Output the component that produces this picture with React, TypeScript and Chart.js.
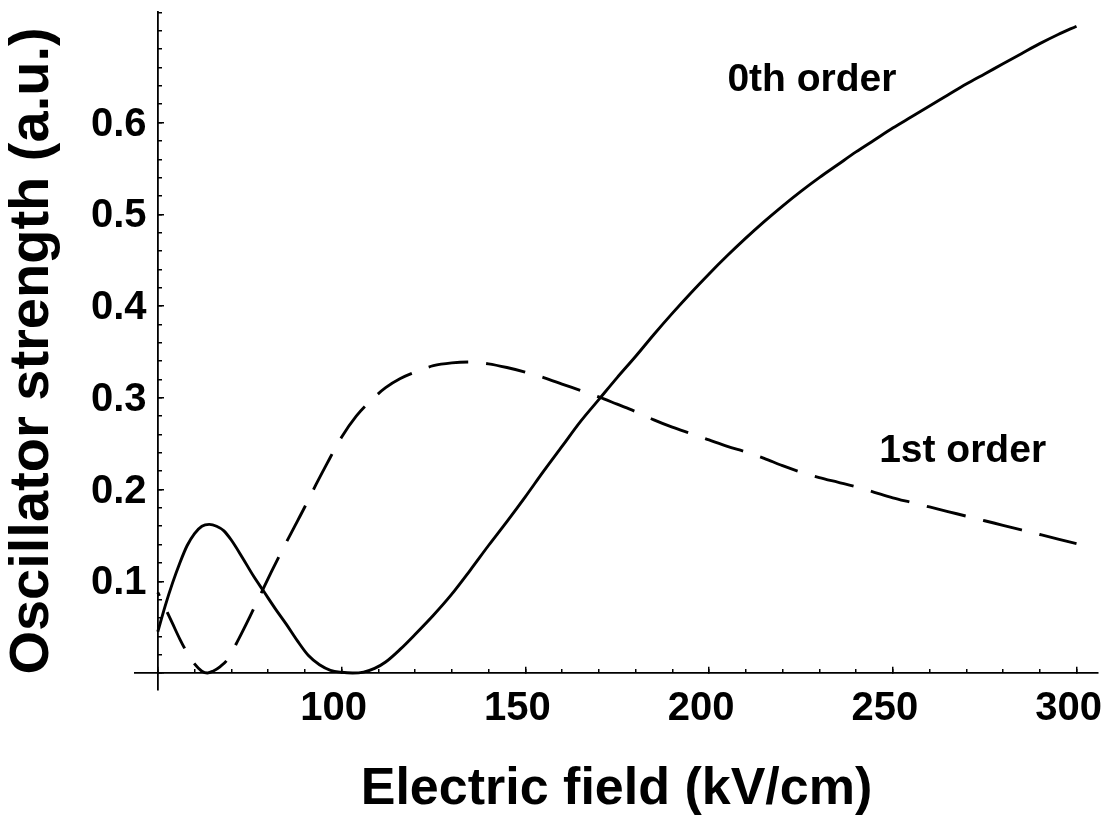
import React, { useEffect, useRef } from 'react';
import { Chart, registerables } from 'chart.js';

Chart.register(...registerables);

// ---- data ----
const SOLID_X = [50, 52, 54, 56, 58, 60, 62, 64, 66, 68, 70, 73, 76, 79, 82, 85, 88, 91, 94, 97, 100, 103, 106, 109, 112, 116, 120, 125, 130, 135, 140, 145, 150, 155, 160, 165, 170, 175, 180, 185, 190, 195, 200, 205, 210, 215, 220, 225, 230, 235, 240, 245, 250, 255, 260, 265, 270, 275, 280, 285, 290, 295, 300];
const SOLID_Y = [0.045, 0.073, 0.098, 0.12, 0.139, 0.152, 0.16, 0.162, 0.16, 0.155, 0.145, 0.126, 0.106, 0.088, 0.07, 0.053, 0.035, 0.019, 0.009, 0.003, 0.0008, 0, 0.001, 0.005, 0.012, 0.026, 0.042, 0.063, 0.086, 0.112, 0.139, 0.165, 0.192, 0.22, 0.247, 0.274, 0.298, 0.322, 0.345, 0.369, 0.392, 0.414, 0.435, 0.455, 0.474, 0.492, 0.509, 0.525, 0.54, 0.554, 0.568, 0.581, 0.594, 0.606, 0.618, 0.63, 0.642, 0.653, 0.664, 0.675, 0.686, 0.696, 0.705];

const DASHED_X = [50, 52, 54, 56, 58, 60, 62, 63.5, 65, 67, 69, 72, 75, 78, 81, 84, 87, 90, 93, 96, 100, 104, 108, 112, 116, 120, 125, 130, 135, 140, 145, 150, 155, 160, 165, 170, 175, 180, 185, 190, 195, 200, 205, 210, 215, 220, 225, 230, 235, 240, 245, 250, 255, 260, 265, 270, 275, 280, 285, 290, 295, 300];
const DASHED_Y = [0.088, 0.071, 0.054, 0.037, 0.022, 0.01, 0.002, 0, 0.002, 0.007, 0.015, 0.037, 0.061, 0.086, 0.111, 0.135, 0.158, 0.181, 0.205, 0.228, 0.257, 0.28, 0.297, 0.311, 0.321, 0.328, 0.335, 0.338, 0.339, 0.337, 0.333, 0.328, 0.322, 0.315, 0.308, 0.301, 0.293, 0.285, 0.276, 0.268, 0.261, 0.254, 0.247, 0.241, 0.234, 0.226, 0.219, 0.213, 0.208, 0.203, 0.197, 0.191, 0.186, 0.181, 0.176, 0.171, 0.166, 0.161, 0.156, 0.151, 0.146, 0.141];

const X_TICK_LABELS = [100, 150, 200, 250, 300];
const Y_TICK_LABELS = [0.1, 0.2, 0.3, 0.4, 0.5, 0.6];

const X_MIN = 43.8;
const X_MAX = 305.85;
const Y_MIN = -0.0185;
const Y_MAX = 0.7205;
const AXIS_CROSS_X = 50;
const AXIS_CROSS_Y = 0;

const ANNOTATION_TEXT = ['0th order', '1st order'];
const ANNOTATION_X = [205.0, 246.3];
const ANNOTATION_Y = [0.634, 0.2299];

const X_TITLE = 'Electric field (kV/cm)';
const Y_TITLE = 'Oscillator strength (a.u.)';

// ---- styling ----
const FONT = '"Liberation Sans", Arial, Helvetica, sans-serif';
const INK = '#000';

const resetPad = (s: any) => {
  s.paddingLeft = 0;
  s.paddingRight = 0;
  s.paddingTop = 0;
  s.paddingBottom = 0;
};

const annotationPlugin = {
  id: 'curveLabels',
  afterDatasetsDraw(chart: any) {
    const { ctx, scales } = chart;
    const xs = scales.x;
    const ys = scales.y;
    ctx.save();
    ctx.font = `bold 39px ${FONT}`;
    ctx.fillStyle = INK;
    ctx.textAlign = 'left';
    ctx.textBaseline = 'alphabetic';
    ANNOTATION_TEXT.forEach((t, i) => {
      ctx.fillText(t, xs.getPixelForValue(ANNOTATION_X[i]), ys.getPixelForValue(ANNOTATION_Y[i]));
    });
    ctx.restore();
  },
};

export default function App() {
  const canvasRef = useRef<HTMLCanvasElement | null>(null);

  useEffect(() => {
    const canvas = canvasRef.current;
    if (!canvas) return;

    const solid = SOLID_X.map((x, i) => ({ x, y: SOLID_Y[i] }));
    const dashed = DASHED_X.map((x, i) => ({ x, y: DASHED_Y[i] }));

    const tickGrid = (len: number) => ({
      display: true,
      drawOnChartArea: false,
      drawTicks: true,
      tickLength: len,
      color: INK,
      lineWidth: 1.5,
      tickWidth: 1.5,
    });

    const chart = new Chart(canvas, {
      type: 'line',
      data: {
        datasets: [
          {
            label: '0th order',
            data: solid,
            xAxisID: 'x',
            yAxisID: 'y',
            borderColor: INK,
            borderWidth: 2.9,
            pointRadius: 0,
            pointHoverRadius: 0,
            fill: false,
            cubicInterpolationMode: 'monotone',
            clip: false,
          },
          {
            label: '1st order',
            data: dashed,
            xAxisID: 'x',
            yAxisID: 'y',
            borderColor: INK,
            borderWidth: 2.9,
            borderDash: [40, 18],
            borderDashOffset: 36,
            pointRadius: 0,
            pointHoverRadius: 0,
            fill: false,
            cubicInterpolationMode: 'monotone',
            clip: false,
          },
        ],
      },
      options: {
        animation: false,
        responsive: false,
        devicePixelRatio: 1,
        events: [],
        layout: { padding: { left: 0, right: 8, top: 12, bottom: 128 } },
        plugins: {
          legend: { display: false },
          title: { display: false },
          tooltip: { enabled: false },
        },
        scales: {
          x: {
            type: 'linear',
            axis: 'x',
            position: { y: AXIS_CROSS_Y },
            min: X_MIN,
            max: X_MAX,
            grid: tickGrid(-7),
            border: { display: true, color: INK, width: 1.8 },
            ticks: {
              stepSize: 50,
              includeBounds: false,
              autoSkip: false,
              maxRotation: 0,
              minRotation: 0,
              padding: 18.5,
              labelOffset: -8,
              color: INK,
              font: { family: FONT, size: 40, weight: 'bold' },
              callback: (v: any) => (X_TICK_LABELS.includes(Number(v)) ? String(v) : ''),
            },
            title: {
              display: true,
              text: X_TITLE,
              color: INK,
              font: { family: FONT, size: 52, weight: 'bold' },
              padding: { top: 0, bottom: 0 },
            },
            afterFit: (s: any) => {
              resetPad(s);
              s.height = 148;
            },
          },
          xMinor: {
            type: 'linear',
            axis: 'x',
            position: { y: AXIS_CROSS_Y },
            min: X_MIN,
            max: X_MAX,
            grid: tickGrid(-4),
            border: { display: false },
            ticks: { stepSize: 10, includeBounds: false, autoSkip: false, display: false },
            afterFit: (s: any) => {
              resetPad(s);
              s.height = 0;
            },
          },
          y: {
            type: 'linear',
            axis: 'y',
            position: { x: AXIS_CROSS_X },
            min: Y_MIN,
            max: Y_MAX,
            grid: {
              ...tickGrid(-7),
              tickColor: (c: any) => (c.tick && c.tick.value > 0.65 ? 'rgba(0,0,0,0)' : INK),
            },
            border: { display: true, color: INK, width: 1.8 },
            ticks: { stepSize: 0.1, includeBounds: false, autoSkip: false, display: false },
            afterFit: (s: any) => {
              resetPad(s);
              s.width = 0;
            },
          },
          yMinor: {
            type: 'linear',
            axis: 'y',
            position: { x: AXIS_CROSS_X },
            min: Y_MIN,
            max: Y_MAX,
            grid: tickGrid(-4),
            border: { display: false },
            ticks: { stepSize: 0.02, includeBounds: false, autoSkip: false, display: false },
            afterFit: (s: any) => {
              resetPad(s);
              s.width = 0;
            },
          },
          yl: {
            type: 'linear',
            axis: 'y',
            position: 'left',
            min: Y_MIN,
            max: Y_MAX,
            grid: { display: false, drawTicks: false, drawOnChartArea: false },
            border: { display: false },
            ticks: {
              stepSize: 0.1,
              includeBounds: false,
              autoSkip: false,
              mirror: true,
              crossAlign: 'near',
              padding: -44.1,
              labelOffset: 2,
              color: INK,
              font: { family: FONT, size: 40, weight: 'bold' },
              callback: (v: any) =>
                Y_TICK_LABELS.some((t) => Math.abs(t - Number(v)) < 1e-6) ? Number(v).toFixed(1) : '',
            },
            title: {
              display: true,
              text: Y_TITLE,
              color: INK,
              font: { family: FONT, size: 56, weight: 'bold' },
              padding: { top: -1.5, bottom: 0 },
            },
            afterFit: (s: any) => {
              resetPad(s);
              s.width = 135;
            },
          },
        },
      } as any,
      plugins: [annotationPlugin],
    });

    return () => chart.destroy();
  }, []);

  return (
    <div style={{ position: 'fixed', left: 0, top: 0, width: 1106, height: 818, background: '#fff' }}>
      <canvas ref={canvasRef} width={1106} height={818} style={{ display: 'block', width: 1106, height: 818 }} />
    </div>
  );
}
